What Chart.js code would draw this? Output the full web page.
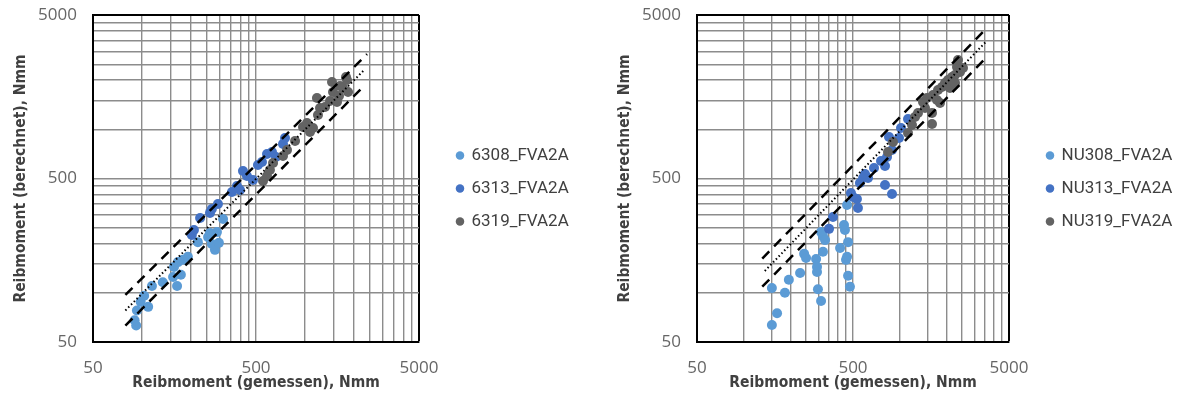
<!DOCTYPE html>
<html>
<head>
<meta charset="utf-8">
<script src="https://cdn.jsdelivr.net/npm/chart.js@4.4.0/dist/chart.umd.min.js"></script>
<style>
  html, body { margin: 0; padding: 0; background: #fff; }
  #wrap { position: relative; width: 1178px; height: 394px; }
  canvas { position: absolute; top: 0; }
  #leftChart { left: 0; }
  #rightChart { left: 589px; }
</style>
</head>
<body>
<div id="wrap">
  <canvas id="leftChart" width="589" height="394"></canvas>
  <canvas id="rightChart" width="589" height="394"></canvas>
</div>
<script>
// --- Data (Nmm) ---

const leftNames = ['6308_FVA2A', '6313_FVA2A', '6319_FVA2A'];
const rightNames = ['NU308_FVA2A', 'NU313_FVA2A', 'NU319_FVA2A'];

// left chart: 63xx
const l6308X = [92, 90, 93, 109, 98, 103, 115, 134, 155, 164, 173, 157, 166, 178, 191, 220, 254, 268, 280, 296, 288, 314, 261];
const l6308Y = [63, 68, 78, 82, 88, 96, 110, 116, 125, 110, 129, 144, 154, 159, 166, 204, 219, 199, 183, 202, 235, 283, 232];
const l6313X = [202, 208, 227, 261, 268, 292, 356, 382, 399, 416, 440, 479, 514, 544, 584, 627, 663, 732, 753];
const l6313Y = [226, 242, 287, 308, 325, 349, 413, 450, 425, 556, 518, 490, 605, 631, 706, 726, 677, 813, 885];
const l6319X = [552, 584, 609, 636, 732, 775, 868, 971, 1028, 1072, 1119, 1200, 1235, 1183, 1325, 1422, 1463, 1484, 1570, 1615, 1638, 1709, 1808, 1835, 1783];
const l6319Y = [483, 518, 564, 622, 686, 747, 848, 1033, 1092, 963, 1018, 1223, 1350, 1554, 1369, 1489, 1945, 1690, 1469, 1598, 1840, 1789, 2002, 1690, 2089];

// right chart: NU3xx
const rNU308X = [151, 163, 151, 183, 194, 229, 243, 250, 290, 294, 294, 298, 312, 321, 312, 321, 331, 413, 438, 444, 458, 465, 458, 451, 465, 478];
const rNU308Y = [63.5, 75, 107, 100, 120, 132, 173, 163, 161, 144, 134, 105, 89, 178, 235, 222, 210, 188, 260, 242, 344, 204, 166, 159, 127, 109];
const rNU313X = [351, 372, 485, 500, 530, 538, 554, 580, 624, 597, 682, 756, 802, 802, 889, 826, 889, 851, 986, 1016, 1126];
const rNU313Y = [246, 291, 408, 385, 375, 330, 469, 504, 504, 533, 580, 640, 596, 456, 402, 677, 747, 897, 885, 1018, 1156];
const rNU319X = [838, 902, 1126, 1195, 1248, 1305, 1447, 1405, 1490, 1605, 1605, 1629, 1753, 1727, 1806, 1860, 1945, 2032, 2093, 2156, 2254, 2321, 2355, 2425, 2535, 2254];
const rNU319Y = [726, 836, 949, 1062, 1189, 1258, 1350, 1469, 1554, 1078, 1258, 1620, 1738, 1510, 1447, 1814, 1919, 2002, 1789, 2089, 2148, 2404, 2652, 2240, 2370, 1919];

// reference lines (y = x and +/-20 %)
const lDotX = [79, 2300], lDotY = [78, 2300];
const lUpX = [79, 2400], lUpY = [97, 2880];
const lLoX = [79, 2260], lLoY = [63, 1808];
const rDotX = [136, 3600], rDotY = [136, 3470];
const rUpX = [131, 3610], rUpY = [162, 4170];
const rLoX = [131, 3610], rLoY = [109, 2770];

// axis ticks
const gridValues = [50, 100, 150, 200, 250, 300, 350, 400, 450, 500, 1000, 1500, 2000, 2500, 3000, 3500, 4000, 4500, 5000];
const tickLabels = [50, 500, 5000];
const seriesColors = ['#5B9BD5', '#4472C4', '#636363'];

function pairs(xs, ys) {
  return xs.map((x, i) => ({ x: x, y: ys[i] }));
}

// put the legend a bit away from the plot, keep it wide enough for the text
const legendShift = {
  id: 'legendShift',
  afterLayout(chart, args, opts) {
    const lg = chart.legend;
    lg.left = chart.chartArea.right + opts.dx;
    lg.width = opts.w;
    lg.right = lg.left + opts.w;
    lg.top += opts.dy;
    lg.bottom += opts.dy;
  }
};

function logAxis(title, isX, size, titlePad) {
  return {
    type: 'logarithmic',
    min: 50,
    max: 5000,
    afterBuildTicks: (s) => { s.ticks = gridValues.map(v => ({ value: v })); },
    afterFit: (s) => {
      if (isX) {
        s.height = size;
        s.paddingLeft = 0;
        s.paddingRight = 0;
      } else {
        s.width = size;
        s.paddingTop = 0;
        s.paddingBottom = 0;
      }
    },
    grid: {
      drawTicks: false,
      color: (c) => (c.tick && c.tick.value === 5000) ? '#000' : '#8c8c8c',
      lineWidth: (c) => (c.tick && c.tick.value === 5000) ? 2 : 1.4
    },
    border: { color: '#000', width: 2 },
    ticks: {
      autoSkip: false,
      maxRotation: 0,
      padding: 16,
      color: '#666666',
      font: { family: 'Open Sans', size: 17 },
      callback: (v) => tickLabels.includes(v) ? String(v) : ''
    },
    title: {
      display: true,
      text: title,
      color: '#404040',
      font: { family: 'DejaVu Sans Condensed', size: 15.5, weight: 'bold' },
      padding: isX ? { top: 0, bottom: 2 } : { top: titlePad, bottom: 0 }
    }
  };
}

function makeChart(id, names, series, lines, yWidth, yTitlePad, padRight) {
  const datasets = series.map((s, i) => ({
    label: names[i],
    data: pairs(s[0], s[1]),
    backgroundColor: seriesColors[i],
    pointRadius: 5,
    pointBorderWidth: 0,
    order: 3 - i
  }));
  const lineStyles = [
    { dash: [1.5, 2.5], width: 2 },
    { dash: [10, 7], width: 2.5 },
    { dash: [10, 7], width: 2.5 }
  ];
  lines.forEach((l, i) => {
    datasets.push({
      label: 'line' + i,
      data: pairs(l[0], l[1]),
      showLine: true,
      pointRadius: 0,
      borderColor: '#000',
      borderWidth: lineStyles[i].width,
      borderDash: lineStyles[i].dash,
      order: 0
    });
  });

  return new Chart(document.getElementById(id), {
    type: 'scatter',
    data: { datasets: datasets },
    options: {
      responsive: false,
      animation: false,
      layout: { padding: { top: 15, right: padRight, bottom: 0, left: 0 } },
      scales: {
        x: logAxis('Reibmoment (gemessen), Nmm', true, 52, 0),
        y: logAxis('Reibmoment (berechnet), Nmm', false, yWidth, yTitlePad)
      },
      plugins: {
        legend: {
          position: 'right',
          maxWidth: 100,
          labels: {
            usePointStyle: true,
            boxWidth: 6,
            boxHeight: 6,
            padding: 16,
            color: '#404040',
            font: { family: 'Roboto', size: 17 },
            filter: (item) => item.datasetIndex < 3,
            sort: (a, b) => a.datasetIndex - b.datasetIndex
          }
        },
        legendShift: { dx: 22, dy: -16, w: 160 },
        tooltip: { enabled: false }
      }
    },
    plugins: [legendShift]
  });
}

makeChart('leftChart', leftNames,
  [[l6308X, l6308Y], [l6313X, l6313Y], [l6319X, l6319Y]],
  [[lDotX, lDotY], [lUpX, lUpY], [lLoX, lLoY]],
  93, 12, 70);

makeChart('rightChart', rightNames,
  [[rNU308X, rNU308Y], [rNU313X, rNU313Y], [rNU319X, rNU319Y]],
  [[rDotX, rDotY], [rUpX, rUpY], [rLoX, rLoY]],
  108, 27, 69);
</script>
</body>
</html>
